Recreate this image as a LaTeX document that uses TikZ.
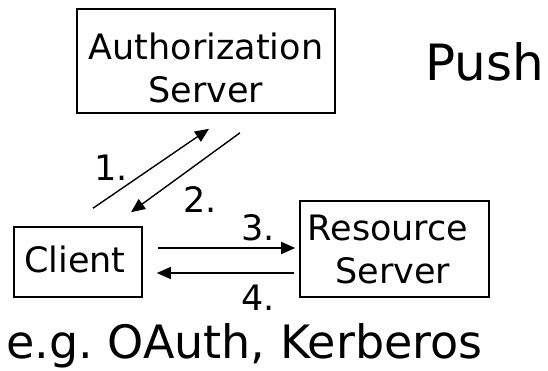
\documentclass[tikz,border=0pt]{standalone}
\usepackage{fontspec}
\setmainfont{DejaVu Sans}
\usetikzlibrary{arrows.meta}

\tikzset{
  box/.style={draw, line width=1.6pt, inner sep=0pt},
  txt/.style={inner sep=0pt, anchor=base, font=\fontsize{35}{42}\selectfont},
  num/.style={inner sep=0pt, anchor=base, font=\fontsize{35}{42}\selectfont},
  flow/.style={line width=1.4pt, -{Triangle[length=14pt,width=12pt]}}
}

\begin{document}
\begin{tikzpicture}[x=1pt, y=-1pt]
  \useasboundingbox (0,0) rectangle (548,370);

  % boxes
  \node[box, minimum width=258pt, minimum height=104pt] (auth) at (206,61) {};
  \node[box, minimum width=128pt, minimum height=70pt] (client) at (78,262) {};
  \node[box, minimum width=189pt, minimum height=96pt] (res) at (394.5,249) {};

  % box texts
  \node[txt] (authA) at (206,59) {Authorization};
  \node[txt] (authB) at (206,102) {Server};
  \node[txt] (clientT) at (75,272) {Client};
  \node[txt] (resA) at (388,240) {Resource};
  \node[txt] (resB) at (393,283) {Server};

  % message flow
  \draw[flow] ([xshift=15pt, yshift=18pt]client.north) -- ([xshift=3pt, yshift=-15pt]auth.south);
  \draw[flow] ([xshift=34pt, yshift=-19pt]auth.south) -- ([xshift=53pt, yshift=14pt]client.north);
  \draw[flow] ([xshift=15pt, yshift=14pt]client.east) -- ([xshift=-4pt, yshift=1pt]res.west);
  \draw[flow] ([xshift=-5pt, yshift=-24pt]res.west) -- ([xshift=14pt, yshift=-11pt]client.east);

  % step numbers
  \node[num] (n1) at (111,180) {1.};
  \node[num] (n2) at (200,212) {2.};
  \node[num] (n3) at (258,240) {3.};
  \node[num] (n4) at (258,310) {4.};

  % headings
  \node[inner sep=0pt, anchor=base, font=\fontsize{50}{60}\selectfont] (push) at (485,80) {Push};
  \node[inner sep=0pt, anchor=base west, font=\fontsize{46}{55}\selectfont] (eg) at (6,358) {e.g.\ OAuth, Kerberos};
\end{tikzpicture}
\end{document}
